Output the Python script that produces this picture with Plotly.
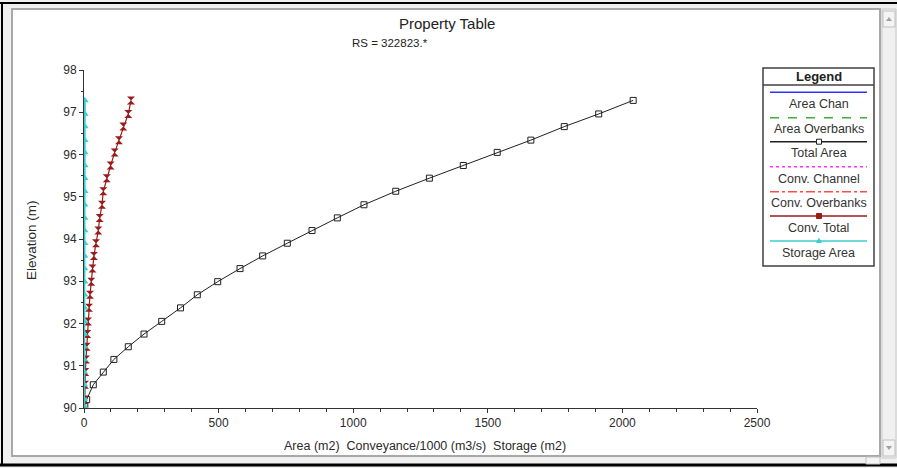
import plotly.graph_objects as go

# ---------------- data ----------------
elevation = [90.05, 90.2, 90.55, 90.85, 91.15, 91.45, 91.75, 92.05, 92.37, 92.68,
             92.99, 93.3, 93.6, 93.9, 94.2, 94.5, 94.81, 95.13, 95.44, 95.74,
             96.05, 96.34, 96.66, 96.96, 97.28]
total_area = [3, 10, 34.5, 71.7, 111, 164.6, 222.9, 288.6, 358.5, 420.9,
              496.7, 579.5, 663.8, 755.2, 847, 941, 1040, 1158, 1283, 1409,
              1535, 1660, 1784, 1912, 2040]
conv_total = [2.6, 2.8, 3.7, 4.8, 7.4, 10, 12.3, 14.9, 18.6, 22.3,
              27, 31.5, 37, 44.6, 53, 58.3, 66.9, 71.7, 84.5, 99,
              114, 130, 146, 164.6, 174.6]
storage_area = [0.5, 0.6, 0.8, 0.9, 1.0, 1.1, 1.2, 1.3, 1.4, 1.5,
                1.6, 1.7, 1.8, 1.9, 2.0, 2.1, 2.2, 2.3, 2.4, 2.5,
                2.6, 2.7, 2.8, 2.9, 3.0]
legend_names = ["Area Chan", "Area Overbanks", "Total Area", "Conv. Channel",
                "Conv. Overbanks", "Conv. Total", "Storage Area"]
x_ticks = [0, 500, 1000, 1500, 2000, 2500]
y_ticks = [90, 91, 92, 93, 94, 95, 96, 97, 98]

W, H = 897, 468
L, R, T, B = 84, 757, 70, 408
FONT = "Liberation Sans, Arial, sans-serif"
TXT = "#2a2a2a"

def px(x):
    return (x - L) / (R - L)

def py(y):
    return (B - y) / (B - T)

fig = go.Figure()
fig.add_trace(go.Scatter(x=total_area, y=elevation, mode="lines+markers",
                         line=dict(color="#202020", width=1),
                         marker=dict(symbol="square-open", size=6, color="#202020",
                                     line=dict(width=1)),
                         name="Total Area", showlegend=False))
fig.add_trace(go.Scatter(x=conv_total, y=elevation, mode="lines+markers",
                         line=dict(color="#9b1b1b", width=1.2),
                         marker=dict(symbol="hourglass", size=8, color="#9b1b1b"),
                         name="Conv. Total", showlegend=False))
fig.add_trace(go.Scatter(x=storage_area, y=elevation, mode="lines+markers",
                         line=dict(color="#3ccfcf", width=2),
                         marker=dict(symbol="triangle-up", size=7, color="#3ccfcf"),
                         name="Storage Area", showlegend=False))

shapes = []
annotations = []

# window frame
shapes.append(dict(type="rect", xref="paper", yref="paper", x0=px(0), x1=px(W), y0=py(0), y1=py(H),
                   fillcolor="#f0f0f0", line=dict(width=0), layer="below"))
shapes.append(dict(type="rect", xref="paper", yref="paper", x0=px(12), x1=px(880), y0=py(9), y1=py(456),
                   fillcolor="white", line=dict(color="#a8a8a8", width=2), layer="below"))
shapes.append(dict(type="line", xref="paper", yref="paper", x0=px(0), x1=px(W), y0=py(3), y1=py(3),
                   line=dict(color="black", width=2)))
shapes.append(dict(type="line", xref="paper", yref="paper", x0=px(2), x1=px(2), y0=py(3), y1=py(465),
                   line=dict(color="black", width=2)))
shapes.append(dict(type="line", xref="paper", yref="paper", x0=px(0), x1=px(W), y0=py(465), y1=py(465),
                   line=dict(color="black", width=3)))
# vertical scrollbar
shapes.append(dict(type="rect", xref="paper", yref="paper", x0=px(882), x1=px(896), y0=py(9), y1=py(458),
                   fillcolor="#f0f0f0", line=dict(color="#c8c8c8", width=1)))
for (a, b) in [(11, 27), (440, 456)]:
    shapes.append(dict(type="rect", xref="paper", yref="paper", x0=px(883), x1=px(895), y0=py(a), y1=py(b),
                       fillcolor="#f4f4f4", line=dict(color="#c0c0c0", width=1)))
shapes.append(dict(type="path", xref="paper", yref="paper",
                   path=f"M {px(886)} {py(21)} L {px(892)} {py(21)} L {px(889)} {py(17)} Z",
                   fillcolor="#a0a0a0", line=dict(width=0)))
shapes.append(dict(type="path", xref="paper", yref="paper",
                   path=f"M {px(886)} {py(446)} L {px(892)} {py(446)} L {px(889)} {py(450)} Z",
                   fillcolor="#a0a0a0", line=dict(width=0)))
# bottom scrollbar hint
shapes.append(dict(type="rect", xref="paper", yref="paper", x0=px(12), x1=px(880), y0=py(457), y1=py(463),
                   fillcolor="#f0f0f0", line=dict(width=0)))
shapes.append(dict(type="rect", xref="paper", yref="paper", x0=px(866), x1=px(880), y0=py(457), y1=py(464),
                   fillcolor="#f4f4f4", line=dict(color="#c0c0c0", width=1)))

# legend box
LX0, LX1, LY0, LY1 = 763, 874, 68, 266
shapes.append(dict(type="rect", xref="paper", yref="paper", x0=px(LX0), x1=px(LX1), y0=py(LY0), y1=py(LY1),
                   fillcolor="white", line=dict(color="#404040", width=1.5)))
shapes.append(dict(type="line", xref="paper", yref="paper", x0=px(LX0), x1=px(LX1), y0=py(85), y1=py(85),
                   line=dict(color="#404040", width=1.5)))
annotations.append(dict(text="<b>Legend</b>", x=px(819), y=py(76), xref="paper", yref="paper",
                        showarrow=False, xanchor="center", yanchor="middle",
                        font=dict(family=FONT, size=13, color="#222")))
line_styles = [("#3030ff", "solid"), ("#3cae3c", "dash"), ("#202020", "solid"),
               ("#ff30ff", "dot"), ("#ff4a4a", "dashdot"), ("#9b1b1b", "solid"), ("#3ccfcf", "solid")]
line_ys = [92.3, 117.7, 141.7, 166.7, 191.7, 216, 241]
text_ys = [104.3, 129.3, 153.3, 179, 203.3, 228.3, 253.3]
for name, (col, dash), ly, ty in zip(legend_names, line_styles, line_ys, text_ys):
    shapes.append(dict(type="line", xref="paper", yref="paper", x0=px(770), x1=px(867), y0=py(ly), y1=py(ly),
                       line=dict(color=col, width=1.5, dash=dash)))
    annotations.append(dict(text=name, x=px(819), y=py(ty), xref="paper", yref="paper",
                            showarrow=False, xanchor="center", yanchor="middle",
                            font=dict(family=FONT, size=12.5, color="#333")))
# legend markers
shapes.append(dict(type="rect", xref="paper", yref="paper", x0=px(816.5), x1=px(821.5),
                   y0=py(139.2), y1=py(144.2), fillcolor="white", line=dict(color="#202020", width=1)))
shapes.append(dict(type="rect", xref="paper", yref="paper", x0=px(816.5), x1=px(821.5),
                   y0=py(213.5), y1=py(218.5), fillcolor="#9b1b1b", line=dict(color="#9b1b1b", width=1)))
shapes.append(dict(type="path", xref="paper", yref="paper",
                   path=f"M {px(816)} {py(243)} L {px(822)} {py(243)} L {px(819)} {py(237.5)} Z",
                   fillcolor="#3ccfcf", line=dict(width=0)))

# titles
annotations.append(dict(text="Property Table", x=px(447), y=py(23), xref="paper", yref="paper",
                        showarrow=False, xanchor="center", yanchor="middle",
                        font=dict(family=FONT, size=15, color="#222")))
annotations.append(dict(text="RS = 322823.*", x=px(390), y=py(43), xref="paper", yref="paper",
                        showarrow=False, xanchor="center", yanchor="middle",
                        font=dict(family=FONT, size=11.5, color="#222")))
annotations.append(dict(text="Area (m2)  Conveyance/1000 (m3/s)  Storage (m2)", x=px(425), y=py(446),
                        xref="paper", yref="paper", showarrow=False, xanchor="center", yanchor="middle",
                        font=dict(family=FONT, size=12.5, color=TXT)))
annotations.append(dict(text="Elevation (m)", x=px(31), y=py(240), xref="paper", yref="paper",
                        showarrow=False, xanchor="center", yanchor="middle", textangle=-90,
                        font=dict(family=FONT, size=13.5, color=TXT)))

fig.update_layout(
    width=W, height=H,
    margin=dict(l=L, r=W - R, t=T, b=H - B, pad=0),
    paper_bgcolor="white", plot_bgcolor="rgba(0,0,0,0)",
    showlegend=False,
    shapes=shapes, annotations=annotations,
    xaxis=dict(range=[0, 2500], tickvals=x_ticks, ticktext=[str(v) for v in x_ticks],
               showgrid=False, zeroline=False, showline=True, linecolor="#333", linewidth=1,
               ticks="outside", ticklen=4, tickcolor="#333",
               minor=dict(dtick=100, ticks="outside", ticklen=3, tickcolor="#333"),
               tickfont=dict(family=FONT, size=12, color=TXT)),
    yaxis=dict(range=[90, 98], tickvals=y_ticks, ticktext=[str(v) for v in y_ticks],
               showgrid=False, zeroline=False, showline=True, linecolor="#333", linewidth=1,
               ticks="outside", ticklen=4, tickcolor="#333",
               minor=dict(dtick=0.5, ticks="outside", ticklen=2, tickcolor="#333"),
               tickfont=dict(family=FONT, size=12, color=TXT)),
    hovermode=False,
)

fig.write_html("out.html", config=dict(displayModeBar=False))
